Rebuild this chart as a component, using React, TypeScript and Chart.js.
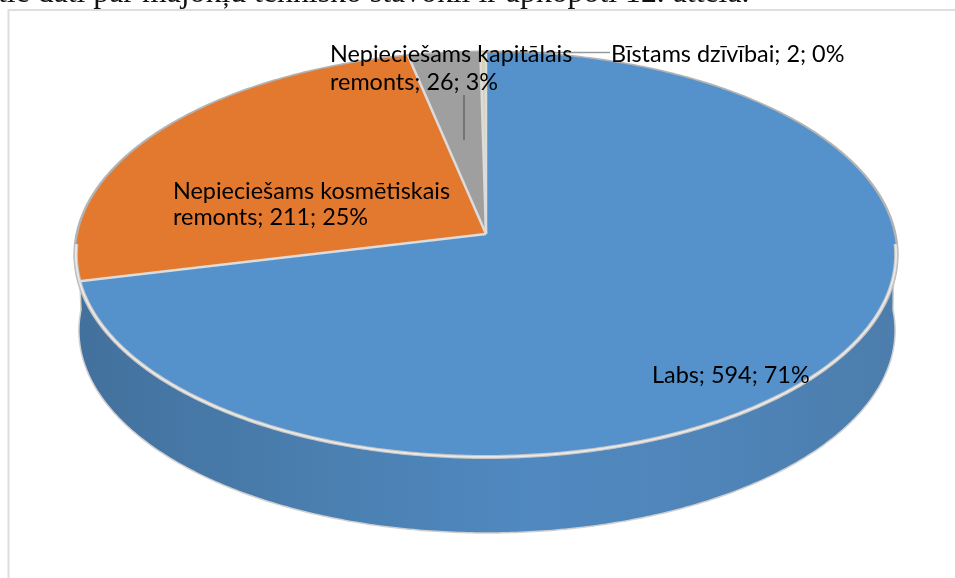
import React, { useEffect, useRef } from "react";
import { Chart, registerables } from "chart.js";

Chart.register(...registerables);

const categories = ["Labs", "Nepieciešams kosmētiskais remonts", "Nepieciešams kapitālais remonts", "Bīstams dzīvībai"];
const values = [594, 211, 26, 2];
const percents = [71, 25, 3, 0];
const colors = ["#5592cb", "#e2792f", "#9f9f9f", "#d8d2b0"];
const headerText = "tie dati par mājokļu tehnisko stāvokli ir apkopoti 12. attēlā.";

const CX = 486, CY = 234, A = 200.4, B = 408, P = -0.1012, DEPTH = 76, B2 = 406;
const pt = (t: number, b = B, dy = 0, dx = 0): [number, number] => {
  const u = Math.cos(t), v = Math.sin(t), d = 1 + P * v;
  return [CX + dx + (b * u) / d, CY + dy + (A * v) / d];
};
const arcPath = (ctx: CanvasRenderingContext2D, s: number, e: number, b = B, dy = 0, move = false, dx = 0) => {
  const n = Math.max(2, Math.ceil(Math.abs(e - s) / 0.01));
  for (let i = 0; i <= n; i++) {
    const [x, y] = pt(s + ((e - s) * i) / n, b, dy, dx);
    if (i === 0 && move) ctx.moveTo(x, y);
    else ctx.lineTo(x, y);
  }
};

const piePlugin = {
  id: "perspectivePie",
  beforeDatasetDraw() {
    return false;
  },
  afterDatasetsDraw(chart: any) {
    const ctx: CanvasRenderingContext2D = chart.ctx;
    const arcs = chart.getDatasetMeta(0).data;
    ctx.save();
    // wall
    const g = ctx.createLinearGradient(80, 0, 893, 0);
    g.addColorStop(0, "#43719d");
    g.addColorStop(0.3, "#4a7fb0");
    g.addColorStop(0.55, "#5089c0");
    g.addColorStop(0.8, "#4f84b8");
    g.addColorStop(1, "#4c7dac");
    ctx.beginPath();
    arcPath(ctx, 0, Math.PI, B, 0, true);
    arcPath(ctx, Math.PI, 0, B2, DEPTH, false, 1);
    ctx.closePath();
    ctx.fillStyle = g;
    ctx.fill();
    ctx.beginPath();
    arcPath(ctx, Math.PI, 0, B2, DEPTH, true, 1);
    ctx.strokeStyle = "#cfcfcf";
    ctx.lineWidth = 1.5;
    ctx.stroke();
    // side edges
    ctx.beginPath();
    let p = pt(Math.PI);
    ctx.moveTo(p[0], p[1]);
    p = pt(Math.PI, B2, DEPTH, 1);
    ctx.lineTo(p[0], p[1]);
    p = pt(0);
    ctx.moveTo(p[0], p[1]);
    p = pt(0, B2, DEPTH, 1);
    ctx.lineTo(p[0], p[1]);
    ctx.stroke();
    // rim
    ctx.beginPath();
    arcPath(ctx, 0, Math.PI * 2, B + 1, 0, true);
    ctx.closePath();
    ctx.strokeStyle = "#b4b4b4";
    ctx.lineWidth = 3;
    ctx.stroke();
    // top faces
    arcs.forEach((a: any) => {
      ctx.beginPath();
      ctx.moveTo(CX, CY);
      arcPath(ctx, a.startAngle, a.endAngle);
      ctx.closePath();
      ctx.fillStyle = a.options.backgroundColor;
      ctx.fill();
    });
    // front bevel
    ctx.beginPath();
    arcPath(ctx, 0.05, Math.PI - 0.05, B, 0, true);
    ctx.strokeStyle = "#c4c4c4";
    ctx.lineWidth = 4;
    ctx.stroke();
    ctx.beginPath();
    arcPath(ctx, 0.05, Math.PI - 0.05, B, 0, true);
    ctx.strokeStyle = "#e9e9e9";
    ctx.lineWidth = 1.8;
    ctx.stroke();
    // separators
    arcs.forEach((a: any) => {
      const [x, y] = pt(a.startAngle);
      ctx.beginPath();
      ctx.moveTo(CX, CY);
      ctx.lineTo(x, y);
      ctx.strokeStyle = "#dcdcdc";
      ctx.lineWidth = 2.5;
      ctx.stroke();
    });
    // leader lines
    ctx.strokeStyle = "#9a9a9a";
    ctx.lineWidth = 1.5;
    ctx.beginPath();
    ctx.moveTo(484, 52.5);
    ctx.lineTo(610, 52.5);
    ctx.stroke();
    ctx.strokeStyle = "#4a4a4a";
    ctx.lineWidth = 1;
    ctx.beginPath();
    ctx.moveTo(464, 95);
    ctx.lineTo(464, 140);
    ctx.stroke();
    // labels
    ctx.fillStyle = "#000";
    ctx.textBaseline = "alphabetic";
    ctx.textAlign = "left";
    ctx.font = "23.4px Lato";
    const label = (i: number) => `${values[i]}; ${percents[i]}%`;
    ctx.fillText(`${categories[0]}; ${label(0)}`, 652, 383);
    ctx.fillText("Nepieciešams kosmētiskais", 173, 199);
    ctx.fillText(`remonts; ${label(1)}`, 173, 225);
    ctx.fillText("Nepieciešams kapitālais", 330, 62);
    ctx.fillText(`remonts; ${label(2)}`, 330, 90);
    ctx.fillText(`${categories[3]}; ${label(3)}`, 611, 62);
    ctx.restore();
  },
};

const framePlugin = {
  id: "pageFrame",
  beforeDraw(chart: any) {
    const ctx: CanvasRenderingContext2D = chart.ctx;
    ctx.save();
    ctx.fillStyle = "#fff";
    ctx.fillRect(0, 0, 955, 578);
    ctx.strokeStyle = "#dedede";
    ctx.lineWidth = 2;
    ctx.strokeRect(8.5, 10, 960, 600);
    ctx.fillStyle = "#111";
    ctx.font = "31.8px 'Liberation Serif'";
    ctx.textAlign = "left";
    ctx.textBaseline = "alphabetic";
    ctx.fillText(headerText, -2, 1.5);
    ctx.restore();
  },
};

export default function App() {
  const ref = useRef<HTMLCanvasElement>(null);
  useEffect(() => {
    const chart = new Chart(ref.current!, {
      type: "pie",
      data: {
        labels: categories,
        datasets: [{ data: values, backgroundColor: colors, borderColor: "#dcdcdc", borderWidth: 2 }],
      },
      options: {
        responsive: false,
        animation: false,
        plugins: { legend: { display: false }, tooltip: { enabled: false } },
      },
      plugins: [framePlugin, piePlugin],
    });
    return () => chart.destroy();
  }, []);
  return (
    <canvas
      ref={ref}
      width={955}
      height={578}
      style={{ position: "absolute", left: 0, top: 0, display: "block" }}
    />
  );
}
